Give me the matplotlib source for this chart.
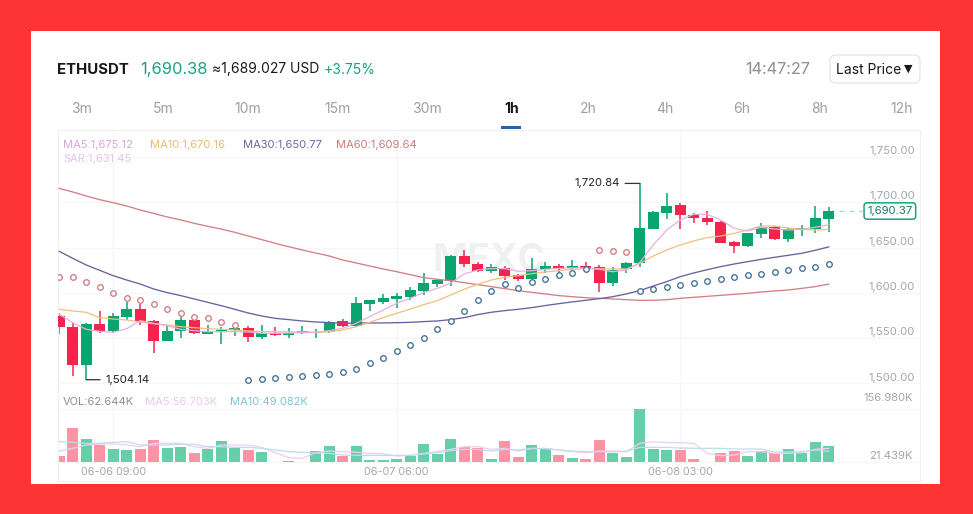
import numpy as np
import matplotlib
matplotlib.use("Agg")
import matplotlib.pyplot as plt
from matplotlib.patches import Rectangle, FancyBboxPatch
from matplotlib.ticker import NullLocator

plt.rcParams['font.family'] = ['Inter', 'DejaVu Sans']

W, H = 973, 514

opens = [1574.5, 1562.0, 1520.4, 1565.7, 1558.0, 1573.0, 1581.9, 1569.4, 1546.6, 1557.6,
         1570.1, 1554.6, 1556.5, 1559.4, 1561.6, 1551.7, 1556.1, 1553.2, 1555.4, 1555.4,
         1558.3, 1569.0, 1563.5, 1587.7, 1590.0, 1593.2, 1595.1, 1601.7, 1609.5, 1613.5,
         1640.4, 1632.3, 1624.2, 1627.9, 1619.4, 1615.7, 1626.4, 1629.3, 1627.1, 1630.0,
         1629.0, 1610.6, 1626.0, 1633.4, 1670.9, 1688.6, 1696.6, 1686.4, 1683.0, 1678.3,
         1656.2, 1651.8, 1665.0, 1672.4, 1659.9, 1669.8, 1670.9, 1681.9]
closes = [1562.0, 1520.4, 1565.7, 1558.3, 1574.5, 1581.9, 1569.0, 1546.6, 1557.6, 1570.1,
          1555.4, 1557.2, 1559.1, 1561.3, 1551.7, 1555.4, 1553.2, 1555.4, 1557.6, 1556.5,
          1568.3, 1563.5, 1588.8, 1591.8, 1594.4, 1596.2, 1602.8, 1610.6, 1614.2, 1640.7,
          1631.5, 1624.5, 1628.6, 1618.6, 1615.3, 1626.8, 1629.3, 1626.0, 1630.0, 1627.5,
          1611.0, 1624.9, 1633.4, 1672.0, 1689.3, 1696.3, 1685.6, 1682.3, 1678.3, 1655.4,
          1651.8, 1665.7, 1673.1, 1659.5, 1670.2, 1671.6, 1682.6, 1690.37]
highs = [1577.5, 1566.4, 1566.4, 1580.0, 1578.2, 1590.3, 1587.8, 1570.1, 1564.6, 1573.8,
         1571.9, 1564.6, 1562.8, 1564.6, 1563.8, 1564.6, 1562.0, 1560.9, 1563.8, 1560.0,
         1569.0, 1570.8, 1595.1, 1592.2, 1598.8, 1600.3, 1606.9, 1622.3, 1615.0, 1641.5,
         1647.3, 1634.5, 1631.9, 1629.7, 1620.9, 1638.2, 1634.5, 1631.9, 1636.3, 1634.5,
         1630.8, 1629.0, 1634.1, 1720.84, 1690.0, 1709.9, 1698.9, 1688.6, 1690.8, 1679.7,
         1657.7, 1666.5, 1677.5, 1673.8, 1671.3, 1675.0, 1695.9, 1694.4]
lows = [1554.6, 1508.3, 1504.14, 1555.4, 1555.4, 1570.1, 1564.6, 1534.0, 1546.6, 1549.9,
        1554.6, 1554.6, 1543.6, 1552.4, 1545.8, 1548.8, 1552.4, 1549.9, 1554.6, 1549.9,
        1556.1, 1562.7, 1562.7, 1580.4, 1587.7, 1583.7, 1592.2, 1597.7, 1606.2, 1607.6,
        1628.2, 1623.4, 1621.6, 1614.2, 1613.5, 1615.0, 1622.3, 1622.3, 1626.0, 1623.8,
        1601.4, 1607.6, 1621.6, 1628.2, 1670.2, 1681.9, 1670.2, 1677.5, 1675.3, 1654.7,
        1643.7, 1651.0, 1660.2, 1658.4, 1655.8, 1662.8, 1666.5, 1667.2]

ma5 = [1576.3, 1567.1, 1559.8, 1557.6, 1556.5, 1560.5, 1569.4, 1566.4, 1563.8, 1559.8,
       1558.3, 1557.2, 1557.2, 1557.2, 1556.9, 1555.4, 1555.4, 1555.7, 1556.1, 1556.5,
       1558.3, 1560.9, 1566.4, 1573.8, 1581.1, 1588.5, 1594.0, 1600.3, 1605.0, 1610.6,
       1620.9, 1625.3, 1626.8, 1626.8, 1623.8, 1624.5, 1626.0, 1627.1, 1627.5, 1627.5,
       1626.0, 1623.4, 1625.3, 1633.4, 1652.9, 1669.4, 1680.5, 1686.7, 1686.7, 1680.5,
       1671.3, 1668.3, 1672.4, 1670.5, 1669.4, 1670.2, 1672.4, 1675.12]
ma10 = [1581.9, 1580.0, 1578.6, 1572.7, 1571.2, 1570.1, 1567.9, 1566.0, 1564.6, 1562.7,
        1561.6, 1560.5, 1559.8, 1559.0, 1558.0, 1557.2, 1557.2, 1556.9, 1556.9, 1556.5,
        1556.9, 1559.0, 1562.7, 1567.5, 1572.7, 1577.4, 1582.2, 1587.0, 1591.4, 1597.7,
        1604.0, 1609.5, 1614.2, 1617.2, 1619.0, 1621.2, 1623.1, 1624.5, 1626.0, 1626.7,
        1626.7, 1626.4, 1626.4, 1632.5, 1640.7, 1647.3, 1652.9, 1657.3, 1661.0, 1662.8,
        1665.7, 1669.4, 1673.8, 1673.8, 1671.6, 1670.2, 1669.4, 1670.16]
ma30 = [1645.9, 1638.2, 1630.8, 1624.9, 1619.0, 1614.2, 1609.8, 1604.3, 1600.3, 1597.0,
        1593.3, 1589.6, 1585.9, 1581.9, 1577.8, 1574.5, 1571.9, 1570.5, 1569.0, 1567.9,
        1567.2, 1566.4, 1566.8, 1566.8, 1566.8, 1567.1, 1567.5, 1568.3, 1569.0, 1570.5,
        1572.7, 1576.0, 1578.6, 1580.4, 1581.9, 1583.7, 1586.0, 1588.1, 1590.0, 1591.8,
        1593.6, 1595.8, 1598.8, 1602.5, 1607.6, 1612.4, 1617.9, 1622.0, 1625.6, 1629.0,
        1631.9, 1634.5, 1637.0, 1639.3, 1641.5, 1643.7, 1647.0, 1650.77]
ma60 = [1715.4, 1711.4, 1707.0, 1702.9, 1699.6, 1695.9, 1691.5, 1687.8, 1683.8, 1680.5,
        1676.8, 1673.5, 1670.5, 1666.9, 1662.8, 1658.8, 1654.7, 1651.0, 1647.4, 1644.0,
        1640.7, 1636.3, 1633.0, 1629.7, 1626.4, 1623.4, 1620.1, 1616.8, 1615.0, 1613.5,
        1611.3, 1609.1, 1606.9, 1604.7, 1602.5, 1600.6, 1598.8, 1597.0, 1595.8, 1594.7,
        1594.0, 1593.3, 1592.5, 1591.8, 1591.8, 1592.5, 1594.0, 1595.1, 1596.2, 1597.3,
        1598.4, 1599.5, 1601.0, 1602.1, 1603.2, 1605.0, 1606.9, 1609.64]
sar = [1617.9, 1617.2, 1612.4, 1606.1, 1599.9, 1594.0, 1592.2, 1587.8, 1582.6, 1577.8,
       1573.8, 1572.3, 1568.3, 1565.0, 1503.9, 1505.0, 1506.1, 1507.6, 1508.3, 1509.4,
       1510.9, 1513.0, 1516.4, 1523.0, 1528.5, 1535.5, 1542.1, 1549.9, 1560.2, 1568.6,
       1580.4, 1592.2, 1602.5, 1610.2, 1605.8, 1612.0, 1615.7, 1619.4, 1622.0, 1626.0,
       1647.3, 1646.2, 1645.5, 1601.7, 1604.3, 1606.5, 1608.7, 1610.9, 1613.1, 1615.3,
       1617.5, 1619.4, 1621.2, 1623.4, 1625.3, 1627.1, 1629.0, 1631.45]

# volume in thousands
volume = [38.3, 108.9, 79.5, 65.2, 55.1, 53.4, 54.2, 77.8, 56.8, 59.3,
          45.0, 55.1, 76.1, 57.6, 53.4, 46.7, 22.3, 25.6, 21.9, 50.9,
          61.8, 37.4, 62.6, 28.2, 27.3, 30.7, 37.4, 66.8, 42.5, 81.2,
          61.0, 56.8, 29.8, 75.3, 34.9, 65.2, 56.8, 39.9, 33.2, 30.7,
          78.6, 44.1, 34.9, 156.98, 54.2, 52.6, 52.6, 29.0, 22.3, 44.1,
          50.9, 37.4, 50.9, 45.8, 54.2, 44.1, 72.7, 62.644]
vol_ma5 = [50.0, 56.8, 65.2, 67.7, 67.7, 65.2, 61.0, 69.4, 69.4, 69.4,
           61.0, 56.8, 65.2, 65.2, 65.2, 59.3, 45.8, 33.2, 31.5, 45.8,
           50.0, 48.4, 46.7, 44.1, 42.5, 37.4, 39.1, 44.1, 48.4, 54.2,
           61.0, 61.0, 54.2, 56.8, 50.0, 56.8, 56.8, 52.6, 48.4, 45.8,
           50.0, 50.0, 48.4, 69.4, 73.6, 71.1, 71.1, 69.4, 44.1, 38.3,
           39.9, 48.4, 48.4, 44.1, 44.1, 45.8, 54.2, 56.703]
vol_ma10 = [73.6, 71.9, 69.4, 69.4, 71.9, 73.6, 65.2, 65.2, 65.2, 66.9,
            66.9, 61.0, 61.0, 59.3, 59.3, 56.8, 52.6, 48.4, 46.7, 45.0,
            44.1, 39.9, 39.1, 39.1, 39.1, 39.1, 39.1, 42.5, 45.8, 50.9,
            54.2, 54.2, 50.0, 54.2, 52.6, 55.9, 55.9, 52.6, 50.0, 48.4,
            48.4, 48.4, 49.2, 59.3, 59.3, 59.3, 57.6, 56.8, 56.8, 56.8,
            55.1, 55.1, 55.1, 47.5, 47.5, 48.4, 52.6, 49.082]

price_ticks = [1750, 1700, 1650, 1600, 1550, 1500]
date_ticks = [4, 25, 46]
date_labels = ["06-06 09:00", "06-07 06:00", "06-08 03:00"]
tabs = ["3m", "5m", "10m", "15m", "30m", "1h", "2h", "4h", "6h", "8h", "12h"]
tab_x = [82, 163, 248, 338, 427, 512, 588, 665, 742, 820, 902]

GREEN = "#0aa56f"
RED = "#f5244f"
VGREEN = "#66cfa9"
VRED = "#fc94a6"
GREY = "#a3a7ae"
FRAME = "#eef0f3"
GRID = "#f6f7f9"


def px(x, y):
    return x / W, 1 - y / H


fig = plt.figure(figsize=(W / 100, H / 100), dpi=100, facecolor="#fd3434")
fig.add_artist(Rectangle(px(31, 484), 909 / W, 453 / H, transform=fig.transFigure,
                         facecolor="white", edgecolor="none", zorder=-5))

# axes placed on the pixel grid of the reference
left, right = 57.7, 920
ax1 = fig.add_axes([left / W, 1 - 390 / H, (right - left) / W, 260 / H], facecolor="none")
ax2 = fig.add_axes([left / W, 1 - 480.7 / H, (right - left) / W, 90.7 / H], facecolor="none")

x = np.arange(len(closes))
up = np.array(closes) >= np.array(opens)
colors = [GREEN if u else RED for u in up]
vcolors = [VGREEN if u else VRED for u in up]
body_lo = np.minimum(opens, closes)
body_hi = np.maximum(opens, closes)

for ax in (ax1, ax2):
    ax.set_xlim(-0.11, 63.76)
    ax.xaxis.set_major_locator(NullLocator())
    ax.yaxis.set_major_locator(NullLocator())
    for s in ax.spines.values():
        s.set_color(FRAME)
        s.set_linewidth(0.8)
    for t in date_ticks:
        ax.axvline(t, color=GRID, lw=0.9, zorder=0)
ax1.spines['bottom'].set_visible(False)
ax2.spines['top'].set_visible(False)

# price panel
ax1.set_ylim(1492.8, 1779.8)
for p in price_ticks:
    ax1.axhline(p, color=GRID, lw=0.9, zorder=0)
    ax1.annotate(f"{p:,.2f}", xy=(1, p), xycoords=ax1.get_yaxis_transform(),
                 xytext=(-3.6, 4.3), textcoords="offset points", ha="right", va="center",
                 fontsize=8.2, color=GREY)

ax1.text(0.5, 1635.2, "MEXC", transform=ax1.get_yaxis_transform(), ha="center", va="center",
         fontsize=27, fontweight="bold", color="#eef0f2", zorder=0)

ax1.vlines(x, lows, highs, colors=colors, lw=1.1, zorder=2)
ax1.bar(x, body_hi - body_lo, bottom=body_lo, width=0.82, color=colors, zorder=3)

ax1.plot(x, ma60, color="#d08084", lw=0.95, zorder=4)
ax1.plot(x, ma30, color="#67629f", lw=0.95, zorder=4)
ax1.plot(x, ma10, color="#f0c07c", lw=0.9, zorder=4)
ax1.plot(x, ma5, color="#e6b0e0", lw=0.9, zorder=4)

sar_arr = np.array(sar)
sar_red = sar_arr > np.array(closes)
ax1.scatter(x[sar_red], sar_arr[sar_red], s=16, facecolors="white", edgecolors="#cf7c80",
            linewidths=0.95, zorder=5)
ax1.scatter(x[~sar_red], sar_arr[~sar_red], s=16, facecolors="white", edgecolors="#3f6f94",
            linewidths=0.95, zorder=5)

# high / low labels
ax1.annotate("1,720.84", xy=(43, highs[43]), xytext=(-14.5, 0), textcoords="offset points",
             ha="right", va="center", fontsize=8.1, color="#222222",
             arrowprops=dict(arrowstyle="-", color="#333333", lw=0.9, shrinkA=2, shrinkB=0))
ax1.annotate("1,504.14", xy=(2, lows[2]), xytext=(14, 0), textcoords="offset points",
             ha="left", va="center", fontsize=8.2, color="#222222",
             arrowprops=dict(arrowstyle="-", color="#333333", lw=0.9, shrinkA=2, shrinkB=0))

# last price marker
ax1.plot([x[-1], 59.5], [closes[-1], closes[-1]], color="#9fdcc6", lw=0.9, ls=(0, (4, 4)), zorder=1)
ax1.annotate("1,690.37", xy=(1, closes[-1]), xycoords=ax1.get_yaxis_transform(),
             xytext=(-5.4, 0), textcoords="offset points", ha="right", va="center",
             fontsize=8.2, color="#16795c",
             bbox=dict(boxstyle="round,pad=0.28", facecolor="white", edgecolor="#1aa37a", lw=1.1))

# volume panel
vol_base, vol_top = 21.439, 156.98
ax2.set_ylim(-25, 204.2)
ax2.axhline(vol_base, color=GRID, lw=0.9, zorder=0)
ax2.axhline(vol_top, color=GRID, lw=0.9, zorder=0)
ax2.bar(x, np.array(volume) - vol_base, bottom=vol_base, width=0.79, color=vcolors, zorder=2)
ax2.plot(x, vol_ma5, color="#f0cdee", lw=0.9, zorder=3)
ax2.plot(x, vol_ma10, color="#bfdcec", lw=0.9, zorder=3)
ax2.annotate("156.980K", xy=(1, vol_top), xycoords=ax2.get_yaxis_transform(),
             xytext=(-5, 7.8), textcoords="offset points", ha="right", va="center",
             fontsize=8, color=GREY)
ax2.annotate("21.439K", xy=(1, vol_base), xycoords=ax2.get_yaxis_transform(),
             xytext=(-5, 4.3), textcoords="offset points", ha="right", va="center",
             fontsize=8.2, color=GREY)
for t, lab in zip(date_ticks, date_labels):
    ax2.annotate(lab, xy=(t, 0), xycoords=ax2.get_xaxis_transform(), xytext=(0, 6.2),
                 textcoords="offset points", ha="center", va="center", fontsize=7.8, color=GREY)

# legends
for lx, ly, s, c in [(63, 145, "MA5:1,675.12", "#d8a6dc"), (150, 145, "MA10:1,670.16", "#e5bd72"),
                     (243, 145, "MA30:1,650.77", "#6a66a4"), (336, 145, "MA60:1,609.64", "#cc7a7a"),
                     (63, 159, "SAR:1,631.45", "#e6c4e9"), (63, 402, "VOL:62.644K", "#8c9096"),
                     (145, 402, "MA5:56.703K", "#ecc8ec"), (230, 402, "MA10:49.082K", "#7fc3d6")]:
    fig.text(*px(lx, ly), s, fontsize=8, color=c, ha="left", va="center")

# header
fig.text(*px(57, 69.5), "ETHUSDT", fontsize=10.8, fontweight="bold", color="#16181c", va="center")
fig.text(*px(140, 69.5), "1,690.38", fontsize=11.9, color="#1aa37a", va="center")
fig.text(*px(212, 69.5), "≈1,689.027 USD", fontsize=10, color="#16181c", va="center")
fig.text(*px(324, 69.5), "+3.75%", fontsize=10, color="#1aa37a", va="center")
fig.text(*px(745, 69.5), "14:47:27", fontsize=11.7, color="#8a8e96", va="center")

fig.add_artist(FancyBboxPatch(px(830, 83), 90 / W, 28 / H, transform=fig.transFigure,
                              boxstyle="round,pad=0,rounding_size=0.006", mutation_aspect=1.9,
                              facecolor="white", edgecolor="#e3e5e9", lw=0.9))
fig.text(*px(836, 69.5), "Last Price", fontsize=10, color="#16181c", va="center")
fig.text(*px(908, 69), "▼", fontsize=8, color="#16181c", ha="center", va="center",
         family="DejaVu Sans")

for tx, s in zip(tab_x, tabs):
    on = s == "1h"
    fig.text(*px(tx, 109), s, fontsize=10, ha="center", va="center",
             color="#16181c" if on else "#9a9ea6", fontweight="bold" if on else "normal")
fig.add_artist(Rectangle(px(501, 128.5), 19.5 / W, 3 / H, transform=fig.transFigure,
                         facecolor="#2a62a8", edgecolor="none"))

fig.savefig("out.png", dpi=100, facecolor=fig.get_facecolor())
